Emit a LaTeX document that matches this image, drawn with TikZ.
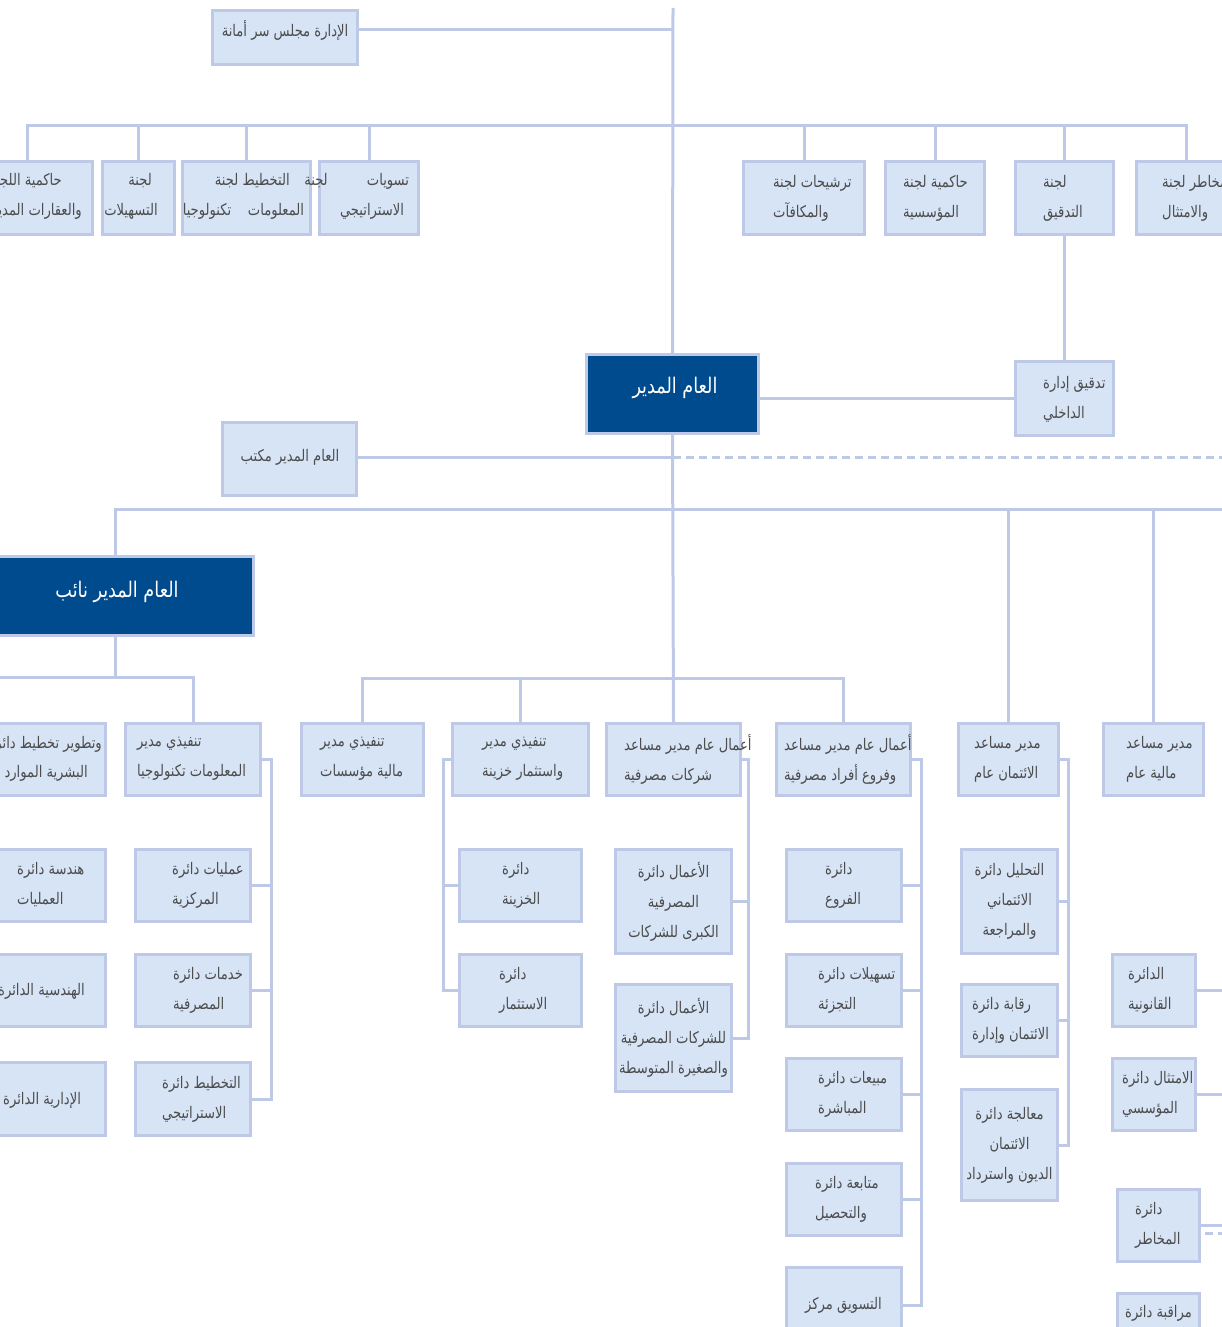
\documentclass[tikz,border=0pt]{standalone}
\usepackage{fontspec}
\newfontfamily\arabicfont[Script=Arabic,FakeStretch=0.82]{DejaVu Sans}
\TeXXeTstate=1
\newcommand\RL[1]{\beginR #1\endR}
\definecolor{lineC}{HTML}{BDC9E6}
\definecolor{boxC}{HTML}{D6E4F6}
\definecolor{darkC}{HTML}{004B8D}
\definecolor{textC}{HTML}{4C4C4C}
\newcommand\bx[6][box]{%
  \pgfmathsetmacro\cxx{(#3+#5)/2}\pgfmathsetmacro\cyy{(#4+#6)/2}%
  \pgfmathsetmacro\ww{#5-#3-3}\pgfmathsetmacro\hh{#6-#4-3}%
  \node[#1,minimum width=\ww pt,minimum height=\hh pt] (#2) at (\cxx,\cyy) {};}
\begin{document}
\begin{tikzpicture}[x=1pt,y=-1pt,
  box/.style={draw=lineC,line width=3pt,fill=boxC,inner sep=0pt},
  dark/.style={draw=lineC,line width=3pt,fill=darkC,inner sep=0pt},
  ln/.style={draw=lineC,line width=3pt},
  dln/.style={draw=lineC,line width=3pt,dash pattern=on 8pt off 5pt},
  txt/.style={font=\arabicfont\fontsize{16}{30}\selectfont,text=textC,inner sep=0pt,align=left},
  wtxt/.style={txt,font=\arabicfont\fontsize{21.5}{30}\selectfont,text=white},
  ctr/.style={txt,align=center},
]
\useasboundingbox (0,0) rectangle (1222,1327);
% ---------- boxes ----------
\bx{sec}{211}{9}{359}{66}
\bx{c1}{-40}{160}{94}{236}
\bx{c2}{101}{160}{176}{236}
\bx{c3}{181}{160}{312}{236}
\bx{c4}{318}{160}{420}{236}
\bx{c5}{742}{160}{866}{236}
\bx{c6}{884}{160}{986}{236}
\bx{c7}{1014}{160}{1115}{236}
\bx{c8}{1135}{160}{1237}{236}
\bx[dark]{gm}{585}{353}{760}{435}
\bx{aud}{1014}{360}{1115}{437}
\bx{off}{221}{421}{358}{497}
\bx[dark]{dep}{-25}{555}{255}{637}
\bx{a1}{-40}{722}{107}{797}
\bx{a2}{124}{722}{262}{797}
\bx{a3}{300}{722}{425}{797}
\bx{a4}{451}{722}{590}{797}
\bx{a5}{605}{722}{742}{797}
\bx{a6}{775}{722}{912}{797}
\bx{a7}{957}{722}{1060}{797}
\bx{a8}{1102}{722}{1205}{797}
\bx{l1}{-40}{848}{107}{923}
\bx{l2}{-40}{953}{107}{1028}
\bx{l3}{-40}{1061}{107}{1137}
\bx{i1}{134}{848}{252}{923}
\bx{i2}{134}{953}{252}{1028}
\bx{i3}{134}{1061}{252}{1137}
\bx{t1}{458}{848}{583}{923}
\bx{t2}{458}{953}{583}{1028}
\bx{k1}{614}{848}{733}{955}
\bx{k2}{614}{983}{733}{1093}
\bx{r1}{785}{848}{903}{923}
\bx{r2}{785}{953}{903}{1028}
\bx{r3}{785}{1057}{903}{1132}
\bx{r4}{785}{1162}{903}{1237}
\bx{r5}{785}{1266}{903}{1345}
\bx{d1}{960}{848}{1059}{955}
\bx{d2}{960}{983}{1059}{1058}
\bx{d3}{960}{1088}{1059}{1202}
\bx{f1}{1111}{953}{1197}{1028}
\bx{f2}{1111}{1057}{1197}{1132}
\bx{f3}{1116}{1188}{1201}{1263}
\bx{f4}{1116}{1292}{1201}{1345}
% ---------- coordinates ----------
\coordinate (top) at (673,8);
\coordinate (secl) at (673,30);
\coordinate (busc) at (0,126);
\coordinate (dashend) at (1235,457);
\coordinate (bus3) at (0,509);
\coordinate (rend) at (1235,509);
\coordinate (leftend) at (-45,677);
\coordinate (bus2) at (0,678);
\coordinate (bi) at (271,0);
\coordinate (bt) at (443,0);
\coordinate (bk) at (748,0);
\coordinate (br) at (921,0);
\coordinate (bd) at (1068,0);
\coordinate (bf) at (1235,0);
\coordinate (fd1) at (1205,1233);
\coordinate (fd2) at (1235,1233);
% ---------- connectors ----------
\draw[ln] (top) -- (gm.north);
\draw[ln] (sec.east |- secl) -- (secl);
\draw[ln] (c1.north) -- (c1.north |- busc) -- (c8.north |- busc) -- (c8.north);
\foreach \c in {c2,c3,c4,c5,c6,c7} \draw[ln] (\c.north) -- (\c.north |- busc);
\draw[ln] (c7.south) -- (aud.north);
\draw[ln] (gm.east |- aud.west) -- (aud.west);
\draw[ln] (gm.south) -- (a5.north);
\draw[ln] (off.east |- dashend) -- (top |- dashend);
\draw[dln] (top |- dashend) -- (dashend);
\draw[ln] (dep.north) -- (dep.north |- bus3) -- (rend);
\draw[ln] (a7.north) -- (a7.north |- bus3);
\draw[ln] (a8.north) -- (a8.north |- bus3);
\draw[ln] (dep.south) -- (dep.south |- leftend);
\draw[ln] (leftend) -- (leftend -| a2.north) -- (a2.north);
\draw[ln] (a3.north) -- (a3.north |- bus2) -- (a6.north |- bus2) -- (a6.north);
\draw[ln] (a4.north) -- (a4.north |- bus2);
% brackets
\draw[ln] (a2.east) -- (a2.east -| bi) |- (i3.east);
\foreach \b in {i1,i2} \draw[ln] (\b.east) -- (\b.east -| bi);
\draw[ln] (a4.west) -- (a4.west -| bt) |- (t2.west);
\draw[ln] (t1.west) -- (t1.west -| bt);
\draw[ln] (a5.east) -- (a5.east -| bk) |- (k2.east);
\draw[ln] (k1.east) -- (k1.east -| bk);
\draw[ln] (a6.east) -- (a6.east -| br) |- (r5.east);
\foreach \b in {r1,r2,r3,r4} \draw[ln] (\b.east) -- (\b.east -| br);
\draw[ln] (a7.east) -- (a7.east -| bd) |- (d3.east);
\foreach \b in {d1,d2} \draw[ln] (\b.east) -- (\b.east -| bd);
\foreach \b in {f1,f2,f3} \draw[ln] (\b.east) -- (\b.east -| bf);
\draw[dln] (fd1) -- (fd2);
% ---------- texts ----------
\node[txt] (sec-t) at (285,30) {\RL{الإدارة مجلس سر أمانة}};
\node[txt,anchor=east] (c1-a) at (62,181) {\RL{حاكمية اللجنة}};
\node[txt,anchor=east] (c1-b) at (82,211) {\RL{والعقارات المدينة}};
\node[txt,anchor=east] (c2-a) at (152,181) {\RL{لجنة}};
\node[txt,anchor=east] (c2-b) at (158,211) {\RL{التسهيلات}};
\node[txt,anchor=east] (c3-a) at (290,181) {\RL{التخطيط لجنة}};
\node[txt] (c3-b) at (316,181) {\RL{لجنة}};
\node[txt] (c3-c) at (276,211) {\RL{المعلومات}};
\node[txt] (c3-d) at (207,211) {\RL{تكنولوجيا}};
\node[txt] (c4-a) at (388,181) {\RL{تسويات}};
\node[txt] (c4-b) at (372,211) {\RL{الاستراتيجي}};
\node[txt,anchor=west] (c5-t) at (773,198) {\RL{ترشيحات لجنة}\\\RL{والمكافآت}};
\node[txt,anchor=west] (c6-t) at (903,198) {\RL{حاكمية لجنة}\\\RL{المؤسسية}};
\node[txt,anchor=west] (c7-t) at (1043,198) {\RL{لجنة}\\\RL{التدقيق}};
\node[txt,anchor=west] (c8-t) at (1162,198) {\RL{مخاطر لجنة}\\\RL{والامتثال}};
\node[wtxt] (gm-t) at (675,388) {\RL{العام المدير}};
\node[txt,anchor=west] (aud-t) at (1043,399) {\RL{تدقيق إدارة}\\\RL{الداخلي}};
\node[txt] (off-t) at (290,457) {\RL{العام المدير مكتب}};
\node[wtxt] (dep-t) at (117,592) {\RL{العام المدير نائب}};
\node[txt,anchor=east] (a1-a) at (102,744) {\RL{وتطوير تخطيط دائرة}};
\node[txt,anchor=east] (a1-b) at (88,773) {\RL{البشرية الموارد}};
\node[txt,anchor=west] (a2-t) at (137,759) {\RL{تنفيذي مدير}\\\RL{المعلومات تكنولوجيا}};
\node[txt,anchor=west] (a3-t) at (320,759) {\RL{تنفيذي مدير}\\\RL{مالية مؤسسات}};
\node[txt,anchor=west] (a4-t) at (482,759) {\RL{تنفيذي مدير}\\\RL{واستثمار خزينة}};
\node[txt,anchor=west] (a5-t) at (624,759) {\RL{أعمال عام مدير مساعد}\\\RL{شركات مصرفية}};
\node[txt,anchor=west] (a6-t) at (784,759) {\RL{أعمال عام مدير مساعد}\\\RL{وفروع أفراد مصرفية}};
\node[txt,anchor=west] (a7-t) at (974,759) {\RL{مدير مساعد}\\\RL{الائتمان عام}};
\node[txt,anchor=west] (a8-t) at (1126,759) {\RL{مدير مساعد}\\\RL{مالية عام}};
\node[txt,anchor=west] (l1-t) at (17,885) {\RL{هندسة دائرة}\\\RL{العمليات}};
\node[txt,anchor=east] (l2-t) at (85,991) {\RL{الهندسية الدائرة}};
\node[txt,anchor=west] (l3-t) at (3,1100) {\RL{الإدارية الدائرة}};
\node[txt,anchor=west] (i1-t) at (172,885) {\RL{عمليات دائرة}\\\RL{المركزية}};
\node[txt,anchor=west] (i2-t) at (173,990) {\RL{خدمات دائرة}\\\RL{المصرفية}};
\node[txt,anchor=west] (i3-t) at (162,1099) {\RL{التخطيط دائرة}\\\RL{الاستراتيجي}};
\node[txt,anchor=west] (t1-t) at (502,885) {\RL{دائرة}\\\RL{الخزينة}};
\node[txt,anchor=west] (t2-t) at (499,990) {\RL{دائرة}\\\RL{الاستثمار}};
\node[ctr] (k1-t) at (k1) {\RL{الأعمال دائرة}\\\RL{المصرفية}\\\RL{الكبرى للشركات}};
\node[ctr] (k2-t) at (k2) {\RL{الأعمال دائرة}\\\RL{للشركات المصرفية}\\\RL{والصغيرة المتوسطة}};
\node[txt,anchor=west] (r1-t) at (825,885) {\RL{دائرة}\\\RL{الفروع}};
\node[txt,anchor=west] (r2-t) at (818,990) {\RL{تسهيلات دائرة}\\\RL{التجزئة}};
\node[txt,anchor=west] (r3-t) at (818,1094) {\RL{مبيعات دائرة}\\\RL{المباشرة}};
\node[txt,anchor=west] (r4-t) at (815,1199) {\RL{متابعة دائرة}\\\RL{والتحصيل}};
\node[txt,anchor=west] (r5-t) at (805,1305) {\RL{التسويق مركز}};
\node[ctr] (d1-t) at (d1) {\RL{التحليل دائرة}\\\RL{الائتماني}\\\RL{والمراجعة}};
\node[txt,anchor=west] (d2-t) at (972,1020) {\RL{رقابة دائرة}\\\RL{الائتمان وإدارة}};
\node[ctr] (d3-t) at (d3) {\RL{معالجة دائرة}\\\RL{الائتمان}\\\RL{الديون واسترداد}};
\node[txt,anchor=west] (f1-t) at (1128,990) {\RL{الدائرة}\\\RL{القانونية}};
\node[txt,anchor=west] (f2-t) at (1122,1094) {\RL{الامتثال دائرة}\\\RL{المؤسسي}};
\node[txt,anchor=west] (f3-t) at (1135,1225) {\RL{دائرة}\\\RL{المخاطر}};
\node[txt,anchor=west] (f4-t) at (1125,1313) {\RL{مراقبة دائرة}};
\end{tikzpicture}
\end{document}
